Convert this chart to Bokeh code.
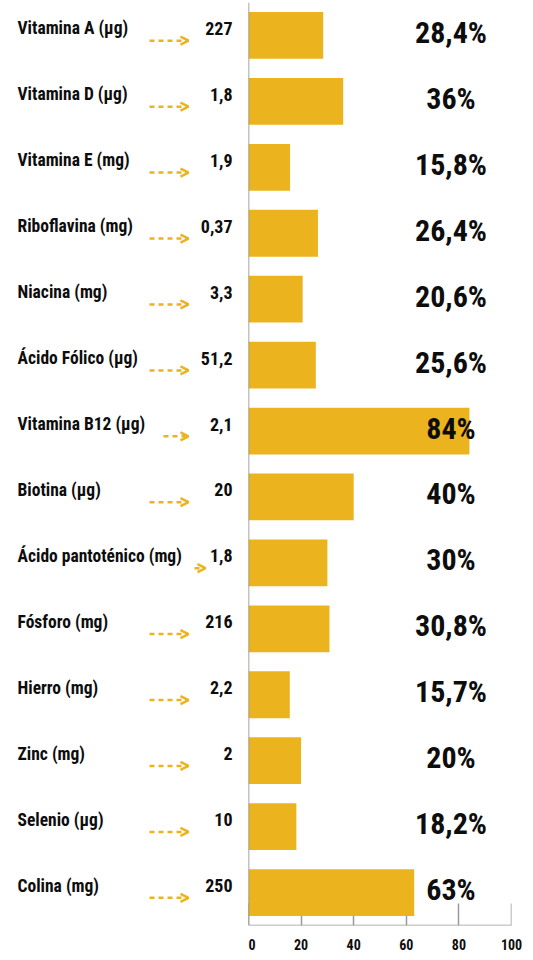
from bokeh.plotting import figure
from bokeh.layouts import row
from bokeh.models import ColumnDataSource, Range1d, Span, Arrow, OpenHead, FixedTicker, LinearAxis
from bokeh.core.properties import value
from bokeh.embed import file_html
from bokeh.resources import INLINE

nutrients = ["Vitamina A (µg)", "Vitamina D (µg)", "Vitamina E (mg)", "Riboflavina (mg)",
             "Niacina (mg)", "Ácido Fólico (µg)", "Vitamina B12 (µg)", "Biotina (µg)",
             "Ácido pantoténico (mg)", "Fósforo (mg)", "Hierro (mg)", "Zinc (mg)",
             "Selenio (µg)", "Colina (mg)"]
amounts = ["227", "1,8", "1,9", "0,37", "3,3", "51,2", "2,1", "20", "1,8", "216", "2,2", "2", "10", "250"]
pct_values = [28.4, 36, 15.8, 26.4, 20.6, 25.6, 84, 40, 30, 30.8, 15.7, 20, 18.2, 63]
pct_labels = ["28,4%", "36%", "15,8%", "26,4%", "20,6%", "25,6%", "84%", "40%", "30%",
              "30,8%", "15,7%", "20%", "18,2%", "63%"]
x_ticks = [0, 20, 40, 60, 80, 100]

GOLD = "#EBB31E"
INK = "#0d0d0d"
FONT = "Roboto Condensed, DejaVu Sans Condensed, Roboto"
H = 960
TOP = 2
BOTTOM = 35

n = len(nutrients)
ys = list(range(n))
y_range = Range1d(n - 0.5, -0.5)

# ---------- left panel: names, arrows, amounts ----------
left = figure(width=248, height=H, x_range=Range1d(0, 248), y_range=y_range,
              output_backend="svg", toolbar_location=None,
              min_border_left=0, min_border_right=0, min_border_top=TOP, min_border_bottom=BOTTOM)
left.axis.visible = False
left.grid.visible = False
left.outline_line_color = None

lsrc = ColumnDataSource(dict(y=ys, name=nutrients, amt=amounts))
left.text(x=17, y="y", text="name", source=lsrc, text_font=value(FONT), text_font_style="bold",
          text_font_size="17.5px", text_color=INK, text_baseline="middle", text_align="left",
          y_offset=-7)
left.text(x=232, y="y", text="amt", source=lsrc, text_font=value(FONT), text_font_style="bold",
          text_font_size="18px", text_color=INK, text_baseline="middle", text_align="right",
          y_offset=-7)

arrow_start = {"Vitamina B12 (µg)": 163, "Ácido pantoténico (mg)": 194}
xs0 = [arrow_start.get(nm, 149) for nm in nutrients]
xs1 = [205 if nm == "Ácido pantoténico (mg)" else 188 for nm in nutrients]
ay = [y + 0.08 for y in ys]
asrc = ColumnDataSource(dict(x0=xs0, x1=xs1, y0=ay, y1=ay))
left.add_layout(Arrow(end=OpenHead(size=8, line_color=GOLD, line_width=2.5),
                      x_start="x0", x_end="x1", y_start="y0", y_end="y1", source=asrc,
                      line_color=GOLD, line_width=2.5, line_dash="5 4"))

# ---------- right panel: bars ----------
right = figure(width=285, height=H, x_range=Range1d(0, 100), y_range=y_range,
               output_backend="svg", toolbar_location=None, x_axis_location=None,
               min_border_left=0, min_border_right=22, min_border_top=TOP, min_border_bottom=0)
right.yaxis.visible = False
right.grid.visible = False
right.outline_line_color = None

rsrc = ColumnDataSource(dict(y=ys, pct=pct_values, lab=pct_labels))
right.hbar(y="y", left=0, right="pct", height=0.71, source=rsrc, fill_color=GOLD, line_color=None)
right.text(x=77, y="y", text="lab", source=rsrc, text_font=value(FONT), text_font_style="bold",
           text_font_size="30px", text_color=INK, text_baseline="middle", text_align="center",
           y_offset=-3)
right.add_layout(Span(location=0, dimension="height", line_color="#888888", line_width=1.5))

# axis line + ticks, drawn beneath the bars
tick_axis = LinearAxis(ticker=FixedTicker(ticks=x_ticks), level="underlay",
                       axis_line_color="#999999", axis_line_width=1.5,
                       major_tick_line_color="#999999", major_tick_line_width=1.5,
                       major_tick_in=22, major_tick_out=0, minor_tick_line_color=None,
                       major_label_overrides={t: "" for t in x_ticks},
                       major_label_text_font_size="1px", major_label_standoff=0)
right.add_layout(tick_axis, "below")

# tick labels
label_axis = LinearAxis(ticker=FixedTicker(ticks=x_ticks), axis_line_color=None,
                        major_tick_line_color=None, minor_tick_line_color=None,
                        major_label_text_font=FONT, major_label_text_font_style="bold",
                        major_label_text_font_size="14px", major_label_text_color=INK,
                        major_label_standoff=7)
right.add_layout(label_axis, "below")

layout = row(left, right)
open("out.html", "w").write(file_html(layout, INLINE))
